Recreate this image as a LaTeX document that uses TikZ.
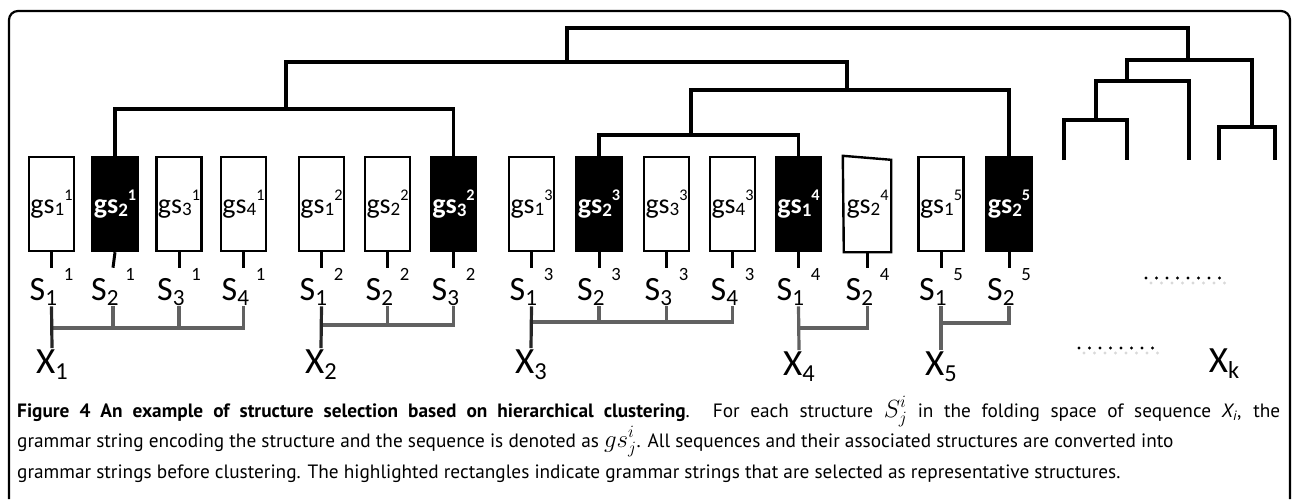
\documentclass[tikz,border=0pt]{standalone}
\usepackage{graphicx}
\usepackage{fontspec}
\setmainfont{Carlito}
\newfontfamily\capfont{PT Sans}
\usetikzlibrary{calc}

% labels: gs_j^i in the boxes, S_j^i under them, X_i for the sequences
\newcommand{\gslab}[2]{gs\raisebox{-0.1em}{\scalebox{0.68}{#1}}\raisebox{0.45em}{\scalebox{0.58}{#2}}}
\newcommand{\slab}[2]{S\raisebox{-0.15em}{\scalebox{0.68}{#1}}\hspace{0.2em}\raisebox{0.56em}{\scalebox{0.55}{#2}}}
\newcommand{\xlab}[1]{X\raisebox{-0.17em}{\scalebox{0.66}{#1}}}

\begin{document}
\begin{tikzpicture}[x=1pt, y=-1pt,
    gsbox/.style={draw, line width=2.4pt, minimum width=45pt, minimum height=94pt, inner sep=0pt, font=\fontsize{28}{28}\selectfont},
    pick/.style={gsbox, fill=black, text=white, font=\fontsize{28}{28}\selectfont\bfseries},
    slabel/.style={inner sep=1pt, anchor=base, font=\fontsize{34}{34}\selectfont},
    xlabel/.style={inner sep=1pt, anchor=base, font=\fontsize{37}{37}\selectfont},
    link/.style={line width=3.2pt},
    stub/.style={line width=3pt},
    brk/.style={line width=3.2pt, black!62},
    xstem/.style={line width=3.2pt, black!85},
    dots/.style={line width=3.2pt, line cap=round, dash pattern=on 0pt off 10.5pt},
    capline/.style={anchor=base west, inner sep=0pt, font=\capfont\fontsize{19.3}{19.3}\selectfont},
]
\useasboundingbox (0,0) rectangle (1292,499);
\draw[line width=2.2pt, rounded corners=9pt] (9,499) -- (9,11) -- (1290,11) -- (1290,499);

% grammar strings
\node[gsbox] (b11) at (51.5,204) {\gslab{1}{1}};
\node[pick]  (b12) at (115,204) {\gslab{2}{1}};
\node[gsbox] (b13) at (179,204) {\gslab{3}{1}};
\node[gsbox] (b14) at (243.5,204) {\gslab{4}{1}};
\node[gsbox] (b21) at (321.5,204) {\gslab{1}{2}};
\node[gsbox] (b22) at (387.5,204) {\gslab{2}{2}};
\node[pick]  (b23) at (453.5,204) {\gslab{3}{2}};
\node[gsbox] (b31) at (531.5,204) {\gslab{1}{3}};
\node[pick]  (b32) at (599,204) {\gslab{2}{3}};
\node[gsbox] (b33) at (666.5,204) {\gslab{3}{3}};
\node[gsbox] (b34) at (732.5,204) {\gslab{4}{3}};
\node[pick]  (b41) at (798.5,204) {\gslab{1}{4}};
\node[gsbox, draw=none] (b42) at (867.5,204) {\gslab{2}{4}};
\draw[line width=2.4pt] ([xshift=-1pt]b42.north west) -- ([yshift=-4pt]b42.north east) -- (b42.south east) -- (b42.south west) -- cycle;
\node[gsbox] (b51) at (941,204) {\gslab{1}{5}};
\node[pick]  (b52) at (1009,204) {\gslab{2}{5}};

% structures
\node[slabel] (s11) at (51.5,300) {\slab{1}{1}};
\node[slabel] (s12) at (113,300) {\slab{2}{1}};
\node[slabel] (s13) at (179,300) {\slab{3}{1}};
\node[slabel] (s14) at (243.5,300) {\slab{4}{1}};
\node[slabel] (s21) at (321.5,300) {\slab{1}{2}};
\node[slabel] (s22) at (387.5,300) {\slab{2}{2}};
\node[slabel] (s23) at (453.5,300) {\slab{3}{2}};
\node[slabel] (s31) at (531.5,300) {\slab{1}{3}};
\node[slabel] (s32) at (599,300) {\slab{2}{3}};
\node[slabel] (s33) at (666.5,300) {\slab{3}{3}};
\node[slabel] (s34) at (732.5,300) {\slab{4}{3}};
\node[slabel] (s41) at (798.5,300) {\slab{1}{4}};
\node[slabel] (s42) at (867.5,300) {\slab{2}{4}};
\node[slabel] (s51) at (941,300) {\slab{1}{5}};
\node[slabel] (s52) at (1009,300) {\slab{2}{5}};

\draw[stub] (b11.south) -- (b11.south |- s11.north);
\draw[stub] (b12.south) -- (s12.north);
\draw[stub] (b13.south) -- (b13.south |- s13.north);
\draw[stub] (b14.south) -- (b14.south |- s14.north);
\draw[stub] (b21.south) -- (b21.south |- s21.north);
\draw[stub] (b22.south) -- (b22.south |- s22.north);
\draw[stub] (b23.south) -- (b23.south |- s23.north);
\draw[stub] (b31.south) -- (b31.south |- s31.north);
\draw[stub] (b32.south) -- (b32.south |- s32.north);
\draw[stub] (b33.south) -- (b33.south |- s33.north);
\draw[stub] (b34.south) -- (b34.south |- s34.north);
\draw[stub] (b41.south) -- (b41.south |- s41.north);
\draw[stub] (b42.south) -- (b42.south |- s42.north);
\draw[stub] (b51.south) -- (b51.south |- s51.north);
\draw[stub] (b52.south) -- (b52.south |- s52.north);

% sequences
\node[xlabel] (x1) at (52,373) {\xlab{1}};
\node[xlabel] (x2) at (321,373) {\xlab{2}};
\node[xlabel] (x3) at (531,373) {\xlab{3}};
\node[xlabel] (x4) at (799,375) {\xlab{4}};
\node[xlabel] (x5) at (941,375) {\xlab{5}};
\node[xlabel] (xk) at (1224,372) {\xlab{k}};

% folding space of each sequence
\coordinate (g1) at (51.5,328);
\coordinate (g2) at (321.5,325);
\coordinate (g3) at (531.5,322);
\coordinate (g4) at (798.5,328);
\coordinate (g5) at (941,323);
\draw[brk] (g1) -| (s14.south);
\draw[brk] (s12.south) -- (s12.south |- g1);
\draw[brk] (s13.south) -- (s13.south |- g1);
\draw[brk] (g2) -| (s23.south);
\draw[brk] (s22.south) -- (s22.south |- g2);
\draw[brk] (g3) -| (s34.south);
\draw[brk] (s32.south) -- (s32.south |- g3);
\draw[brk] (s33.south) -- (s33.south |- g3);
\draw[brk] (g4) -| (s42.south);
\draw[brk] (g5) -| (s52.south);
\draw[xstem] (s11.south) -- (x1.north);
\draw[xstem] (s21.south) -- (x2.north);
\draw[xstem] (s31.south) -- (x3.north);
\draw[brk] (s41.south) -- (x4.north);
\draw[brk] (s51.south) -- (x5.north);

% more sequences
\draw[dots, black!15] (1151,283) -- (1227,283);
\draw[dots] (1146,278) -- (1222,278);
\draw[dots, black!15] (1084,353) -- (1160,353);
\draw[dots] (1079,348) -- (1155,348);

% clustering tree
\coordinate (c1) at (286,109);
\coordinate (c2) at (691,135);
\coordinate (c3) at (847,90);
\coordinate (c4) at (567,62);
\coordinate (c5) at (880,28);
\coordinate (r1) at (1188,60);
\coordinate (r2) at (1127,81);
\coordinate (r3) at (1096,120);
\coordinate (r4) at (1252,127);
\coordinate (l1) at (1064,160);
\coordinate (l2) at (1127,160);
\coordinate (l3) at (1189,160);
\coordinate (l4) at (1219,160);
\coordinate (l5) at (1275,160);
\draw[link] (b12.north) |- (c1) -| (b23.north);
\draw[link] (b32.north) |- (c2) -| (b41.north);
\draw[link] (c2) |- (c3) -| (b52.north);
\draw[link] (c1) |- (c4) -| (c3);
\draw[link] (c4) |- (c5) -| (r1);
\draw[link] (r2) |- (r1) -| (r4);
\draw[link] (r3) |- (r2) -| (l3);
\draw[link] (l1) |- (r3) -| (l2);
\draw[link] (l4) |- (r4) -| (l5);

% caption
\node[capline] (cap1) at (17,417) {\makebox[1263pt][s]{\textbf{Figure 4 An example of structure selection based on hierarchical clustering}. For each structure {\fontsize{24}{24}\selectfont$S^{i}_{j}$} in the folding space of sequence \textit{X\textsubscript{i}}, the}};
\node[capline] (cap2) at (17,447) {grammar string encoding the structure and the sequence is denoted as {\fontsize{24}{24}\selectfont$gs^{i}_{j}$}. All sequences and their associated structures are converted into};
\node[capline] (cap3) at (17,478) {grammar strings before clustering. The highlighted rectangles indicate grammar strings that are selected as representative structures.};
\end{tikzpicture}
\end{document}
